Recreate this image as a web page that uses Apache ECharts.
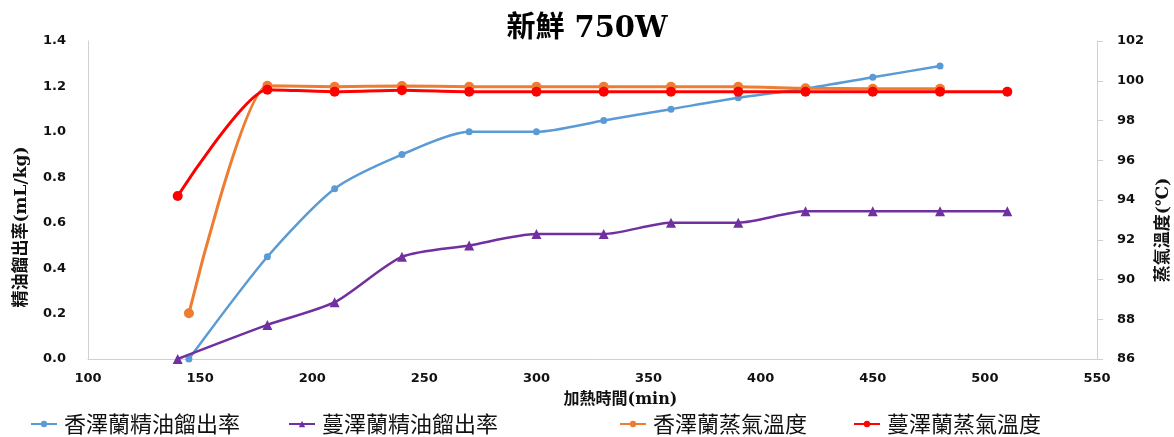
<!DOCTYPE html>
<html>
<head>
<meta charset="utf-8">
<script src="https://cdn.jsdelivr.net/npm/echarts@6/dist/echarts.min.js"></script>
<style>
  html, body { margin: 0; padding: 0; background: #fff; }
  #chart { width: 1174px; height: 437px; }
</style>
</head>
<body>
<div id="chart"></div>
<script>
// Heating time (min) and yields / steam temperatures
const seriesNames = ['香澤蘭精油餾出率', '蔓澤蘭精油餾出率', '香澤蘭蒸氣溫度', '蔓澤蘭蒸氣溫度'];

const xiangTime = [145, 180, 210, 240, 270, 300, 330, 360, 390, 420, 450, 480];
const xiangYield = [0.0, 0.45, 0.75, 0.90, 1.00, 1.00, 1.05, 1.10, 1.15, 1.19, 1.24, 1.29];
const xiangTemp = [88.3, 99.75, 99.7, 99.74, 99.7, 99.7, 99.7, 99.7, 99.7, 99.62, 99.6, 99.6];

const manTime = [140, 180, 210, 240, 270, 300, 330, 360, 390, 420, 450, 480, 510];
const manYield = [0.0, 0.15, 0.25, 0.45, 0.50, 0.55, 0.55, 0.60, 0.60, 0.65, 0.65, 0.65, 0.65];
const manTemp = [94.2, 99.55, 99.45, 99.52, 99.45, 99.45, 99.45, 99.45, 99.45, 99.45, 99.45, 99.45, 99.45];

const colors = ['#5B9BD5', '#7030A0', '#ED7D31', '#FF0000'];

const pairs = (xs, ys) => xs.map((x, i) => [x, ys[i]]);

const tickFont = { fontFamily: 'DejaVu Sans', fontWeight: 'bold', fontSize: 13, color: '#111' };
const cjk = 'DejaVu Serif, Noto Sans CJK TC';
const legendLefts = [25, 283, 614, 848];

const chart = echarts.init(document.getElementById('chart'), null, { renderer: 'canvas' });
chart.setOption({
  animation: false,
  backgroundColor: '#fff',
  title: {
    text: '新鮮 750W',
    left: 'center',
    top: 10,
    textStyle: { fontFamily: cjk, fontWeight: 'bold', fontSize: 29, color: '#000' }
  },
  legend: seriesNames.map((n, i) => ({
    data: [n],
    left: legendLefts[i],
    top: 408,
    itemWidth: 26,
    itemHeight: 8,
    textStyle: { fontFamily: 'Noto Sans CJK TC', fontSize: 22, color: '#111', padding: [0, 0, 0, 2] }
  })),
  grid: { left: 88, right: 77, top: 41, bottom: 78, containLabel: false, outerBoundsMode: 'none' },
  xAxis: {
    type: 'value',
    min: 100, max: 550, interval: 50,
    name: '加熱時間(min)',
    nameLocation: 'middle',
    nameGap: 33,
    nameTextStyle: { fontFamily: cjk, fontSize: 16, fontWeight: 'bold', color: '#111', padding: [0, 0, 0, 56] },
    axisLine: { lineStyle: { color: '#d0d0d0', width: 1 } },
    axisTick: { show: false },
    axisLabel: Object.assign({ margin: 13 }, tickFont),
    splitLine: { show: false }
  },
  yAxis: [
    {
      type: 'value',
      min: 0, max: 1.4, interval: 0.2,
      name: '精油餾出率(mL/kg)',
      nameLocation: 'middle',
      nameGap: 58,
      nameRotate: 90,
      nameTextStyle: { fontFamily: cjk, fontSize: 17, fontWeight: 'bold', color: '#111', padding: [0, 54, 0, 0] },
      axisLine: { show: true, lineStyle: { color: '#d0d0d0', width: 1 } },
      axisTick: { show: false },
      axisLabel: Object.assign({ margin: 22, formatter: v => v.toFixed(1) }, tickFont),
      splitLine: { show: false }
    },
    {
      type: 'value',
      min: 86, max: 102, interval: 2,
      position: 'right',
      name: '蒸氣溫度(℃)',
      nameLocation: 'middle',
      nameGap: 48,
      nameRotate: 90,
      nameTextStyle: { fontFamily: cjk, fontSize: 17, fontWeight: 'bold', color: '#111', padding: [0, 60, 0, 0] },
      axisLine: { show: true, lineStyle: { color: '#d0d0d0', width: 1 } },
      axisTick: { show: true, length: 6, inside: false, lineStyle: { color: '#d0d0d0' } },
      axisLabel: Object.assign({ margin: 20 }, tickFont),
      splitLine: { show: false }
    }
  ],
  series: [
    {
      name: seriesNames[0], type: 'line', yAxisIndex: 0, smooth: 0.25,
      data: pairs(xiangTime, xiangYield),
      symbol: 'circle', symbolSize: 7,
      itemStyle: { color: colors[0] },
      lineStyle: { color: colors[0], width: 2.5 },
      z: 2
    },
    {
      name: seriesNames[1], type: 'line', yAxisIndex: 0, smooth: 0.25,
      data: pairs(manTime, manYield),
      symbol: 'triangle', symbolSize: 10,
      itemStyle: { color: colors[1] },
      lineStyle: { color: colors[1], width: 2.5 },
      z: 3
    },
    {
      name: seriesNames[2], type: 'line', yAxisIndex: 1, smooth: 0.2,
      data: pairs(xiangTime, xiangTemp),
      symbol: 'circle', symbolSize: 10,
      itemStyle: { color: colors[2] },
      lineStyle: { color: colors[2], width: 3 },
      z: 4
    },
    {
      name: seriesNames[3], type: 'line', yAxisIndex: 1, smooth: 0.2,
      data: pairs(manTime, manTemp),
      symbol: 'circle', symbolSize: 10,
      itemStyle: { color: colors[3] },
      lineStyle: { color: colors[3], width: 3 },
      z: 5
    }
  ]
});
</script>
</body>
</html>
